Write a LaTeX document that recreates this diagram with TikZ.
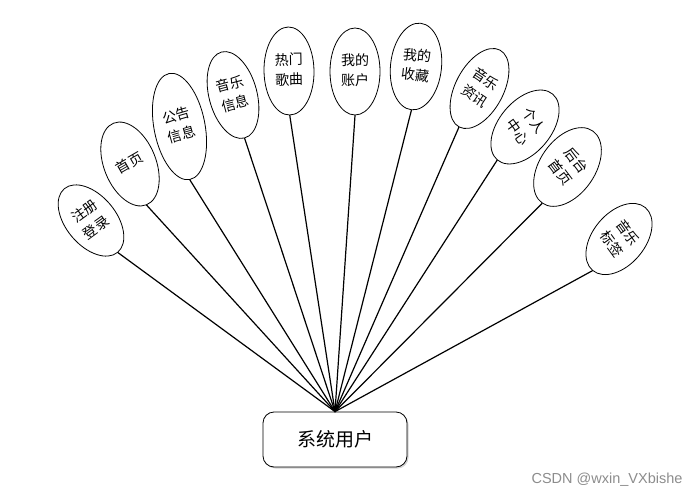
\documentclass[tikz,border=0pt]{standalone}
\usepackage{fontspec}
\setmainfont{Liberation Sans}
\newfontfamily\cjk{Noto Sans CJK SC}
\usetikzlibrary{shapes.geometric,shadows}
\newcommand{\rtxt}[2]{\rotatebox{#1}{\begin{tabular}{@{}c@{}}#2\end{tabular}}}
\begin{document}
\begin{tikzpicture}[x=1pt,y=1pt,
  bub/.style={draw, ellipse, line width=0.8pt, inner sep=0pt, fill=white,
    font=\cjk\fontsize{14}{20}\selectfont},
  conn/.style={line width=1.2pt, line cap=round},
  userbox/.style={draw, rounded corners=11pt, line width=0.8pt, fill=white,
    minimum width=144, minimum height=55, font=\cjk\fontsize{19}{22}\selectfont,
    drop shadow={shadow xshift=1.5pt, shadow yshift=-1.5pt, opacity=0.35}},
  wmark/.style={text=black!45, font=\fontsize{14.5}{16}\selectfont}]
\useasboundingbox (0,0) rectangle (700,-497);
\node[userbox] (u) at (335,-439.5) {系统用户};
\node[bub, minimum width=50, minimum height=83, rotate=40] (n1) at (91,-220.5) {\rtxt{-4}{注册\\登录}};
\node[bub, minimum width=52, minimum height=88, rotate=22] (n2) at (130,-164) {\rtxt{8}{首页}};
\node[bub, minimum width=51, minimum height=108, rotate=11] (n3) at (179.5,-126.5) {\rtxt{5}{公告\\信息}};
\node[bub, minimum width=48, minimum height=89, rotate=15] (n4) at (233,-95) {\rtxt{0}{音乐\\信息}};
\node[bub, minimum width=50, minimum height=88, rotate=1] (n5) at (289,-71) {\rtxt{0}{热门\\歌曲}};
\node[bub, minimum width=50, minimum height=87, rotate=0] (n6) at (355,-71.5) {\rtxt{0}{我的\\账户}};
\node[bub, minimum width=51, minimum height=87, rotate=-6] (n7) at (416,-66.5) {\rtxt{0}{我的\\收藏}};
\node[bub, minimum width=48, minimum height=87, rotate=-28] (n8) at (479.5,-88.5) {\rtxt{-6}{音乐\\资讯}};
\node[bub, minimum width=46, minimum height=86, rotate=-40] (n9) at (525,-127) {\rtxt{-14}{个人\\中心}};
\node[bub, minimum width=46, minimum height=88, rotate=-35] (n10) at (567.5,-167) {\rtxt{-18}{后台\\首页}};
\node[bub, minimum width=50, minimum height=82, rotate=-40] (n11) at (619,-239) {\rtxt{-14}{音乐\\标签}};
\foreach \n in {n1,n2,n3,n4,n5,n6,n7,n8,n9,n10,n11}
  \draw[conn] (u.north) -- (\n.south);
\node[wmark, anchor=east] (wm) at (686,-480) {CSDN @wxin\_VXbishe};
\end{tikzpicture}
\end{document}
